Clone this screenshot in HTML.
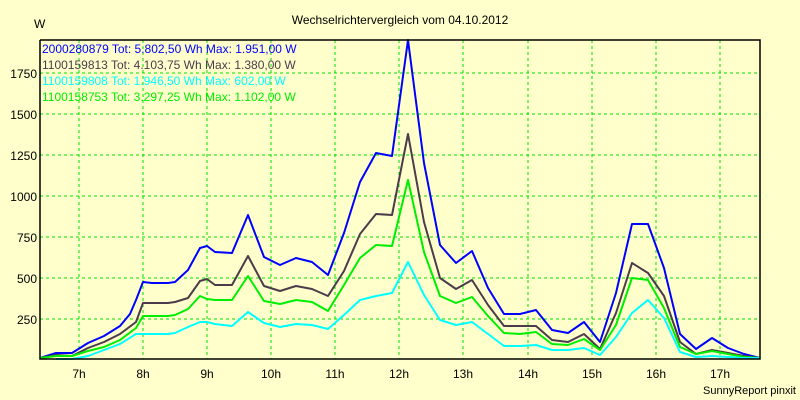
<!DOCTYPE html><html><head><meta charset="utf-8"><style>body{margin:0;background:#ffffcc}svg{display:block}text{font-family:"Liberation Sans",sans-serif;font-size:12px}</style></head><body>
<svg width="800" height="400" xmlns="http://www.w3.org/2000/svg">
<rect width="800" height="400" fill="#ffffcc"/>
<g stroke="#00e000" stroke-dasharray="3,3" stroke-width="1">
<line x1="40" x2="760" y1="73" y2="73"/><line x1="40" x2="760" y1="114" y2="114"/><line x1="40" x2="760" y1="155" y2="155"/><line x1="40" x2="760" y1="196" y2="196"/><line x1="40" x2="760" y1="237" y2="237"/><line x1="40" x2="760" y1="278" y2="278"/><line x1="40" x2="760" y1="319" y2="319"/>
<line x1="79" x2="79" y1="40" y2="359"/><line x1="143" x2="143" y1="40" y2="359"/><line x1="207" x2="207" y1="40" y2="359"/><line x1="271" x2="271" y1="40" y2="359"/><line x1="335" x2="335" y1="40" y2="359"/><line x1="399" x2="399" y1="40" y2="359"/><line x1="463" x2="463" y1="40" y2="359"/><line x1="528" x2="528" y1="40" y2="359"/><line x1="592" x2="592" y1="40" y2="359"/><line x1="656" x2="656" y1="40" y2="359"/><line x1="720" x2="720" y1="40" y2="359"/>
</g>
<g fill="none" stroke-width="2" stroke-linejoin="round">
<polyline stroke="#0000ff" points="40,358 56,353 72,353 88,343 104,336 120,326 130,314 136,300 143,282 152,283 168,283 175,282 188,270 200,248 207,246 215,252 232,253 248,215 264,257 280,265 296,258 312,262 328,275 344,233 360,182 376,153 392,156 408,40 424,163 440,245 456,263 472,251 488,288 504,314 520,314 536,310 552,330 568,333 584,322 600,342 616,293 632,224 648,224 664,268 680,334 696,349 712,338 728,348 744,354 760,358"/>
<polyline stroke="#4b3b4b" points="40,358 56,355 72,356 88,348 104,342 120,334 136,322 143,303 152,303 168,303 175,302 188,298 200,281 207,279 215,285 232,285 248,256 264,286 280,291 296,286 312,289 328,296 344,271 360,234 376,214 392,215 408,134 424,222 440,278 456,289 472,280 488,305 504,326 520,326 536,326 552,340 568,342 584,334 600,349 616,313 632,263 648,273 664,296 680,342 696,354 712,350 728,353 744,356 760,358"/>
<polyline stroke="#00ee00" points="40,358 56,356 72,356 88,351 104,347 120,340 136,328 143,316 152,316 168,316 175,315 188,309 200,296 207,299 215,300 232,300 248,276 264,301 280,304 296,300 312,302 328,311 344,285 360,258 376,245 392,246 408,180 424,252 440,296 456,303 472,297 488,316 504,333 520,334 536,332 552,344 568,345 584,339 600,350 616,325 632,278 648,280 664,308 680,347 696,354 712,351 728,354 744,357 760,358"/>
<polyline stroke="#00ffff" points="56,359 72,359 88,356 104,350 120,344 136,334 143,334 152,334 168,334 175,333 188,327 200,322 207,322 215,324 232,326 248,312 264,323 280,327 296,324 312,325 328,329 344,315 360,300 376,296 392,293 408,262 424,295 440,320 456,325 472,322 488,334 504,346 520,346 536,345 552,350 568,350 584,348 600,355 616,337 632,313 648,300 664,318 680,352 696,357 712,356 728,357 744,358 760,358"/>
</g>
<polyline points="40,40 40,359 760,359 760,40 40,40" fill="none" stroke="#000" stroke-width="1.5"/>
<text x="400" y="24" text-anchor="middle">Wechselrichtervergleich vom 04.10.2012</text>
<text x="34" y="28">W</text>
<g text-anchor="end"><text x="37" y="78">1750</text><text x="37" y="119">1500</text><text x="37" y="160">1250</text><text x="37" y="201">1000</text><text x="37" y="242">750</text><text x="37" y="283">500</text><text x="37" y="324">250</text></g>
<g text-anchor="middle"><text x="79" y="378">7h</text><text x="143" y="378">8h</text><text x="207" y="378">9h</text><text x="271" y="378">10h</text><text x="335" y="378">11h</text><text x="399" y="378">12h</text><text x="463" y="378">13h</text><text x="528" y="378">14h</text><text x="592" y="378">15h</text><text x="656" y="378">16h</text><text x="720" y="378">17h</text></g>
<text x="796" y="394" text-anchor="end" font-size="11" style="font-size:11px">SunnyReport pinxit</text>
<g style="font-size:11px"><text x="42" y="53" fill="#0000ff">2000280879 Tot: 5.802,50 Wh Max: 1.951,00 W</text>
<text x="42" y="69" fill="#4b3b4b">1100159813 Tot: 4.103,75 Wh Max: 1.380,00 W</text>
<text x="42" y="85" fill="#00ffff">1100159808 Tot: 1.946,50 Wh Max: 602,00 W</text>
<text x="42" y="101" fill="#00ee00">1100158753 Tot: 3.297,25 Wh Max: 1.102,00 W</text></g>
</svg></body></html>
